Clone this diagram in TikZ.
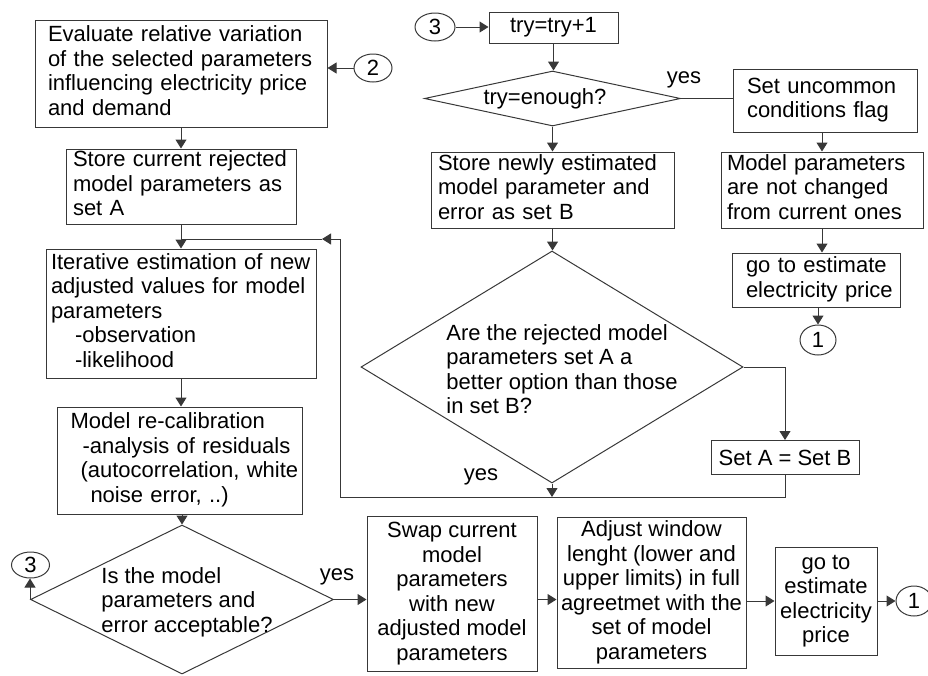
\documentclass[tikz,border=0pt]{standalone}
\usepackage{fontspec}
\setmainfont{Liberation Sans}
\usetikzlibrary{arrows.meta,shapes.geometric,calc}
\definecolor{lc}{gray}{0.22}
\newcommand\txtl[1]{\begin{tabular}{@{}l@{}}#1\end{tabular}}
\begin{document}
\begin{tikzpicture}[x=1pt,y=-1pt,
  every node/.style={font=\fontsize{22}{24.5}\selectfont, text=black},
  box/.style={draw=lc, line width=1pt, inner sep=0pt, rectangle},
  lbox/.style={box, align=left},
  cbox/.style={box, align=center},
  dia/.style={draw=lc, line width=1pt, inner sep=0pt, diamond},
  conn/.style={draw=lc, line width=1pt, ellipse, inner sep=0pt},
  lab/.style={inner sep=0pt},
  arr/.style={draw=lc, line width=1pt, -{Triangle[length=9pt,width=11pt]}},
  ln/.style={draw=lc, line width=1pt}]
\useasboundingbox (0,0) rectangle (928,675);

% left column
\node[lbox, minimum width=292pt, minimum height=107pt, text width=266pt] (b1) at (181,73.5)
  {\txtl{Evaluate relative variation\\of the selected parameters\\influencing electricity price\\and demand}};
\node[conn, minimum width=38pt, minimum height=28pt] (c2) at (373,68) {2};
\node[lbox, minimum width=230pt, minimum height=75pt, text width=216pt] (b2) at (181,186.5)
  {\txtl{Store current rejected\\model parameters as\\set A}};
\node[lbox, minimum width=270pt, minimum height=129pt, text width=260pt] (b3) at (181,313.5)
  {\txtl{Iterative estimation of new\\adjusted values for model\\parameters\\\hspace*{24pt}-observation\\\hspace*{24pt}-likelihood}};
\node[lbox, minimum width=245pt, minimum height=107pt, text width=239pt] (b4) at (180,460.5)
  {\txtl{\hspace*{10pt}Model re-calibration\\\hspace*{22pt}-analysis of residuals\\\hspace*{20pt}(autocorrelation, white\\\hspace*{30pt}noise error, ..)}};
\node[dia, minimum width=303pt, minimum height=149pt] (d1) at (182,599.5) {};
\node[lab, align=left] (d1t) at (187,602) {Is the model\\parameters and\\error acceptable?};
\node[conn, minimum width=38pt, minimum height=26pt] (c3L) at (30.5,565) {3};
\node[lab] (yes3) at (337,577) {yes};

% bottom row
\node[cbox, minimum width=170pt, minimum height=155pt] (sw) at (452,593.5)
  {Swap current\\model\\parameters\\with new\\adjusted model\\parameters};
\node[cbox, minimum width=189pt, minimum height=151pt] (ad) at (651.5,592.5)
  {Adjust window\\lenght (lower and\\upper limits) in full\\agreetmet with the\\set of model\\parameters};
\node[cbox, minimum width=102pt, minimum height=108pt] (g2) at (826,601)
  {go to\\estimate\\electricity\\price};
\node[conn, minimum width=36pt, minimum height=30pt] (c1R) at (914,601) {1};

% top middle / right
\node[conn, minimum width=40pt, minimum height=28pt] (c3T) at (435,27) {3};
\node[cbox, minimum width=129pt, minimum height=31pt] (try) at (553.5,27.5) {try=try+1};
\node[dia, minimum width=256pt, minimum height=55pt] (d2) at (552.5,98.5) {};
\node[lab] (d2t) at (545,99) {try=enough?};
\node[lab] (yes1) at (684,80) {yes};
\node[lbox, minimum width=184pt, minimum height=63pt, text width=156pt] (unc) at (825,100.5)
  {\txtl{Set uncommon\\conditions flag}};
\node[lbox, minimum width=243pt, minimum height=76pt, text width=229pt] (sb) at (552.5,190)
  {\txtl{Store newly estimated\\model parameter and\\error as set B}};
\node[lbox, minimum width=202pt, minimum height=76pt, text width=190pt] (mp) at (822,190)
  {\txtl{Model parameters\\are not changed\\from current ones}};
\node[lbox, minimum width=168pt, minimum height=54pt, text width=140pt] (g1) at (816,280)
  {\txtl{go to estimate\\electricity price}};
\node[conn, minimum width=36pt, minimum height=30pt] (c1T) at (818,340) {1};
\node[dia, minimum width=382pt, minimum height=232pt] (d3) at (552,367) {};
\node[lab, align=left] (d3t) at (562,369) {Are the rejected model\\parameters set A a\\better option than those\\in set B?};
\node[box, minimum width=148pt, minimum height=34pt] (sa) at (785,457.5) {Set A = Set B};
\node[lab] (yes2) at (481,477) {yes};

% helper coordinates
\coordinate (lp) at (340,497);
\coordinate (jt) at (322,239);

% connectors
\draw[arr] (c2.west) -- (c2.west -| b1.east);
\draw[arr] (b1.south) -- (b2.north);
\draw[arr] (b2.south) -- (b3.north);
\draw[arr] (sa.south) |- (lp) |- (jt);
\draw[ln] (jt) -- (jt -| b2.south);
\draw[arr] (b3.south) -- (b3.south |- b4.north);
\draw[arr] (d1.north |- b4.south) -- (d1.north);
\draw[arr] (d1.west) -- (d1.west |- c3L.south);
\draw[arr] (d1.east) -- (d1.east -| sw.west);
\draw[arr] (sw.east |- d1.east) -- (ad.west |- d1.east);
\draw[arr] (ad.east |- g2.west) -- (g2.west);
\draw[arr] (g2.east) -- (c1R.west);
\draw[arr] (c3T.east) -- (c3T.east -| try.west);
\draw[arr] (try.south) -- (try.south |- d2.north);
\draw[ln] (d2.east) -- (d2.east -| unc.west);
\draw[arr] (d2.south) -- (d2.south |- sb.north);
\draw[arr] (mp.north |- unc.south) -- (mp.north);
\draw[arr] (mp.south) -- (mp.south |- g1.north);
\draw[arr] (c1T.north |- g1.south) -- (c1T.north);
\draw[arr] (sb.south) -- (sb.south |- d3.north);
\draw[arr] (d3.east) -| (sa.north);
\draw[arr] (d3.south) -- (d3.south |- lp);
\end{tikzpicture}
\end{document}
